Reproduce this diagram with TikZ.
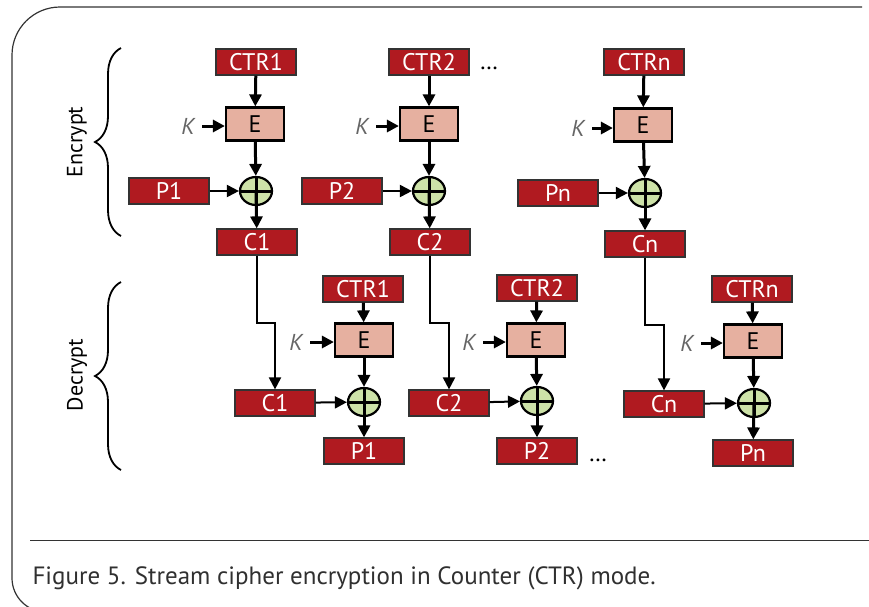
\documentclass[tikz,border=0pt]{standalone}
\usepackage{fontspec}
\setmainfont{PT Sans}
\usetikzlibrary{positioning,shapes,arrows.meta,decorations.pathreplacing}
\definecolor{boxred}{HTML}{B01A20}
\definecolor{epink}{HTML}{E6B0A0}
\definecolor{xgreen}{HTML}{CDE2A8}
\definecolor{capgray}{HTML}{303030}

\tikzset{
    datbox/.style={draw=black!80, line width=1.2pt, fill=boxred, text=white,
        minimum width=80pt, minimum height=26pt, inner sep=0pt,
        font=\fontsize{24}{24}\selectfont},
    encbox/.style={draw=black, line width=2.2pt, fill=epink,
        minimum width=58pt, minimum height=33pt, inner sep=0pt,
        font=\fontsize{24}{24}\selectfont},
    xorop/.style={ellipse, draw=black, line width=2.2pt, fill=xgreen,
        minimum width=32pt, minimum height=28pt, inner sep=0pt,
        path picture={\draw[line width=3pt]
            (path picture bounding box.north) -- (path picture bounding box.south)
            (path picture bounding box.west) -- (path picture bounding box.east);}},
    keylab/.style={text=black!60, font=\fontsize{23}{23}\selectfont\itshape},
    sidelab/.style={rotate=90, font=\fontsize{22}{22}\selectfont},
    arr/.style={-{Triangle[length=12pt,width=12pt]}, line width=3pt},
    thinarr/.style={-{Triangle[length=12pt,width=12pt]}, line width=2pt},
    bracel/.style={decorate, decoration={brace, amplitude=26pt}, line width=1.8pt}
}

\begin{document}
\begin{tikzpicture}[x=1pt, y=-1pt]
    \useasboundingbox (0,0) rectangle (869,606);
    \draw[line width=1.2pt, black!80, rounded corners=48pt] (862,7) -- (12,7)
        [rounded corners=34pt] -- (12,612) -- (120,612);
    \draw[line width=1pt, black!80] (30,540) -- (869,540);
    \node[anchor=base west, text=capgray, font=\fontsize{25}{25}\selectfont] (caption) at (29,584)
        {Figure 5. Stream cipher encryption in Counter (CTR) mode.};

    % encrypt
    \node[datbox] (ctr1) at (256,62) {CTR1};
    \node[encbox] (e1) at (255,124) {E};
    \node[xorop] (x1) at (256,191) {};
    \node[datbox] (p1) at (169,191) {P1};
    \node[datbox] (c1) at (257,242) {C1};
    \node[keylab] (k1) at (188,126) {K};

    \node[datbox] (ctr2) at (429,62) {CTR2};
    \node[encbox] (e2) at (429,124) {E};
    \node[xorop] (x2) at (429,191) {};
    \node[datbox] (p2) at (342,191) {P2};
    \node[datbox] (c2) at (430,242) {C2};
    \node[keylab] (k2) at (362,126) {K};
    \node[font=\fontsize{24}{24}\selectfont] (dots1) at (489,68) {\dots};

    \node[datbox] (ctrn) at (644,62) {CTRn};
    \node[encbox] (en) at (643,125) {E};
    \node[xorop] (xn) at (645,193) {};
    \node[datbox] (pn) at (558,193) {Pn};
    \node[datbox] (cn) at (645,244) {Cn};
    \node[keylab] (kn) at (578,128) {K};

    % decrypt
    \node[datbox] (dctr1) at (363,289) {CTR1};
    \node[encbox] (de1) at (364,340) {E};
    \node[xorop] (dx1) at (364,402) {};
    \node[datbox] (dc1) at (275,403) {C1};
    \node[datbox] (dp1) at (364,451) {P1};
    \node[keylab] (dk1) at (296,342) {K};

    \node[datbox] (dctr2) at (537,288) {CTR2};
    \node[encbox] (de2) at (536,340) {E};
    \node[xorop] (dx2) at (537,401) {};
    \node[datbox] (dc2) at (449,403) {C2};
    \node[datbox] (dp2) at (537,451) {P2};
    \node[keylab] (dk2) at (469,342) {K};
    \node[font=\fontsize{24}{24}\selectfont] (dots2) at (598,460) {\dots};

    \node[datbox] (dctrn) at (752,289) {CTRn};
    \node[encbox] (den) at (753,341) {E};
    \node[xorop] (dxn) at (754,403) {};
    \node[datbox] (dcn) at (664,404) {Cn};
    \node[datbox] (dpn) at (753,453) {Pn};
    \node[keylab] (dkn) at (687,343) {K};

    \foreach \s in {1,2,n} {
        \draw[arr] (ctr\s) -- (e\s);
        \draw[arr] (e\s) -- (x\s);
        \draw[arr] (x\s.center) -- (c\s);
        \draw[thinarr] (p\s) -- (x\s);
        \draw[arr] (k\s.east) ++(4,0) -- (e\s.west |- k\s);
        \draw[arr] (dctr\s) -- (de\s);
        \draw[arr] (de\s) -- (dx\s);
        \draw[arr] (dx\s.center) -- (dp\s);
        \draw[thinarr] (dc\s) -- (dx\s);
        \draw[arr] (dk\s.east) ++(4,0) -- (de\s.west |- dk\s);
        \draw[thinarr] (c\s.south) -- ++(0,67) -| (dc\s.north);
    }

    \coordinate (encbot) at (121,236);
    \coordinate (enctop) at (121,48);
    \coordinate (decbot) at (121,470);
    \coordinate (dectop) at (121,282);
    \draw[bracel] (encbot) -- (enctop);
    \draw[bracel] (decbot) -- (dectop);
    \node[sidelab] (enclab) at (77,142) {Encrypt};
    \node[sidelab] (declab) at (77,375) {Decrypt};
\end{tikzpicture}
\end{document}
